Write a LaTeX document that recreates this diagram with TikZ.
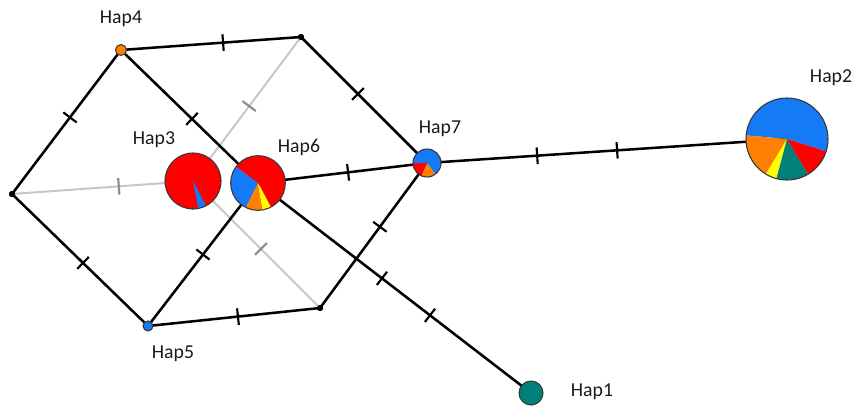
\documentclass[tikz,border=0pt]{standalone}
\usepackage{fontspec}
\setmainfont{Carlito}
\definecolor{hred}{RGB}{255,0,0}
\definecolor{hblue}{RGB}{20,122,245}
\definecolor{horange}{RGB}{255,128,0}
\definecolor{hyellow}{RGB}{255,255,0}
\definecolor{hteal}{RGB}{0,128,120}
\definecolor{rim}{RGB}{55,55,55}
% one pie wedge: node, radius, start angle, end angle, colour
\newcommand\hapslice[5]{\fill[#5] (#1.center) -- ++(#3:#2) arc[start angle=#3, end angle=#4, radius=#2] -- cycle;}
\begin{document}
\begin{tikzpicture}[x=0.75pt,y=0.75pt,
  link/.style={line width=1.9pt, black},
  faint/.style={line width=1.5pt, black!22},
  bar/.style={sloped, draw=black, rectangle, minimum width=0pt, minimum height=12.5pt, inner sep=0pt, line width=1.6pt},
  faintbar/.style={bar, draw=black!45},
  median/.style={circle, fill=black, inner sep=0pt, minimum size=4.5pt},
  hap/.style={circle, inner sep=0pt},
  rimline/.style={draw=rim, line width=0.8pt},
  lab/.style={font=\fontsize{14.8}{16}\selectfont, text=black!90, inner sep=0pt}]
\useasboundingbox (0,0) rectangle (855,405);

% haplotype and median vertex positions
\path (121,355) node[hap, minimum size=8.25pt] (hap4) {}
      (148,79)  node[hap, minimum size=7.5pt] (hap5) {}
      (193,224) node[hap, minimum size=42pt] (hap3) {}
      (258,222) node[hap, minimum size=41pt] (hap6) {}
      (427,242) node[hap, minimum size=21pt] (hap7) {}
      (787,266) node[hap, minimum size=61.5pt] (hap2) {}
      (531,12)  node[hap, minimum size=18pt] (hap1) {};
\node[median] (mtop) at (301,368) {};
\node[median] (mleft) at (12,211) {};
\node[median] (mbot) at (320,97) {};

% faint links into Hap3
\draw[faint] (mtop.center) -- (hap3.center) node[faintbar, pos=0.48] {};
\draw[faint] (mleft.center) -- (hap3.center) node[faintbar, pos=0.59] {};
\draw[faint] (hap3.center) -- (mbot.center) node[faintbar, pos=0.535] {};

% mutational links
\draw[link] (hap4.center) -- (mtop.center) node[bar, pos=0.567] {};
\draw[link] (hap4.center) -- (mleft.center) node[bar, pos=0.468] {};
\draw[link] (hap4.center) -- (hap6.center) node[bar, pos=0.518] {};
\draw[link] (mtop.center) -- (hap7.center) node[bar, pos=0.452] {};
\draw[link] (hap6.center) -- (hap7.center) node[bar, pos=0.533] {};
\draw[link] (hap7.center) -- (hap2.center) node[bar, pos=0.306] {} node[bar, pos=0.528] {};
\draw[link] (hap7.center) -- (mbot.center) node[bar, pos=0.44] {};
\draw[link] (hap6.center) -- (hap1.center) node[bar, pos=0.454] {} node[bar, pos=0.63] {};
\draw[link] (mleft.center) -- (hap5.center) node[bar, pos=0.522] {};
\draw[link] (hap5.center) -- (mbot.center) node[bar, pos=0.523] {};
\draw[link] (hap5.center) -- (hap6.center) node[bar, pos=0.5] {};

% median vertices on top of the links
\fill (mtop) circle[radius=2.3pt];
\fill (mleft) circle[radius=2.3pt];
\fill (mbot) circle[radius=2.3pt];

% Hap3
\fill[hred] (hap3) circle[radius=21pt];
\hapslice{hap3}{21pt}{-79}{-62}{hblue}
\draw[rimline] (hap3) circle[radius=21pt];
% Hap6
\hapslice{hap6}{20.5pt}{-62}{144}{hred}
\hapslice{hap6}{20.5pt}{144}{244}{hblue}
\hapslice{hap6}{20.5pt}{244}{280}{horange}
\hapslice{hap6}{20.5pt}{280}{298}{hyellow}
\draw[rimline] (hap6) circle[radius=20.5pt];
% Hap7
\hapslice{hap7}{10.5pt}{-54}{180}{hblue}
\hapslice{hap7}{10.5pt}{180}{248}{hred}
\hapslice{hap7}{10.5pt}{248}{306}{horange}
\draw[rimline] (hap7) circle[radius=10.5pt];
% Hap2
\hapslice{hap2}{30.75pt}{-17.6}{175}{hblue}
\hapslice{hap2}{30.75pt}{175}{239}{horange}
\hapslice{hap2}{30.75pt}{239}{255}{hyellow}
\hapslice{hap2}{30.75pt}{255}{301}{hteal}
\hapslice{hap2}{30.75pt}{301}{342.4}{hred}
\draw[rimline] (hap2) circle[radius=30.75pt];
% single-colour haplotypes
\draw[rimline, fill=hteal] (hap1) circle[radius=9pt];
\draw[rimline, fill=horange] (hap4) circle[radius=4.1pt];
\draw[rimline, fill=hblue] (hap5) circle[radius=3.75pt];

% labels
\node[lab] (l4) at (121,386) {Hap4};
\node[lab] (l3) at (154,265) {Hap3};
\node[lab] (l6) at (299,258) {Hap6};
\node[lab] (l7) at (440,276) {Hap7};
\node[lab] (l2) at (831,327) {Hap2};
\node[lab] (l5) at (173,51) {Hap5};
\node[lab] (l1) at (592,13) {Hap1};
\end{tikzpicture}
\end{document}
